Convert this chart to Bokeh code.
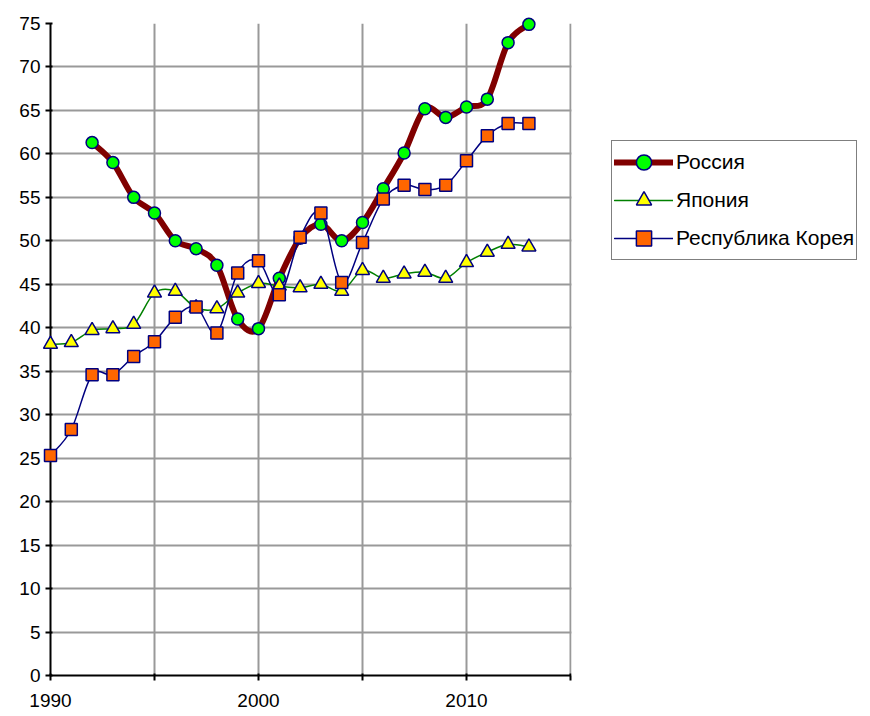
from bokeh.plotting import figure
from bokeh.models import FixedTicker, Legend, LegendItem, Range1d, BoxAnnotation
from bokeh.embed import file_html
from bokeh.resources import INLINE

years_ru = list(range(1992, 2014))
russia = [61.3, 59.0, 55.0, 53.2, 50.0, 49.1, 47.2, 41.0, 39.9, 45.7, 50.3, 51.9,
          50.0, 52.1, 56.0, 60.1, 65.2, 64.2, 65.4, 66.3, 72.8, 74.9]

years = list(range(1990, 2014))
japan = [38.1, 38.3, 39.7, 39.9, 40.4, 44.0, 44.2, 42.3, 42.2, 44.0, 45.1, 44.8,
         44.6, 45.0, 44.2, 46.6, 45.7, 46.2, 46.4, 45.7, 47.5, 48.7, 49.6, 49.3]
korea = [25.3, 28.3, 34.6, 34.6, 36.7, 38.4, 41.2, 42.4, 39.4, 46.3, 47.7, 43.8,
         50.4, 53.2, 45.2, 49.8, 54.8, 56.4, 55.9, 56.4, 59.2, 62.1, 63.5, 63.5]

x_ticks = [1990, 1995, 2000, 2005, 2010, 2015]
x_labels = {1990: "1990", 1995: "", 2000: "2000", 2005: "", 2010: "2010", 2015: ""}
y_ticks = list(range(0, 80, 5))

names = ["Россия", "Япония", "Республика Корея"]

FONT = "Liberation Sans"

# the plotting frame spans the whole figure width so the legend is not clipped;
# the axis and grid stop at 2015, the area to its right is blanked
X0, X1 = 1990, 2015
FRAME_PX = 820
AXIS_PX = 520
x_end = X0 + (X1 - X0) * FRAME_PX / AXIS_PX

p = figure(width=870, height=716, output_backend="svg", toolbar_location=None,
           x_range=Range1d(X0, x_end), y_range=Range1d(0, 75),
           min_border_left=50, min_border_top=23, min_border_bottom=41,
           min_border_right=870 - 50 - FRAME_PX)
p.background_fill_color = "white"
p.border_fill_color = "white"
p.outline_line_color = None

p.xaxis.ticker = FixedTicker(ticks=x_ticks)
p.xaxis.major_label_overrides = x_labels
p.xaxis.bounds = (X0, X1)
p.yaxis.ticker = FixedTicker(ticks=y_ticks)
for ax in (p.xaxis, p.yaxis):
    ax.axis_line_color = "black"
    ax.axis_line_width = 2
    ax.major_tick_line_color = "black"
    ax.major_tick_line_width = 2
    ax.major_tick_out = 5
    ax.major_tick_in = 2
    ax.minor_tick_line_color = None
    ax.major_label_text_font = FONT
    ax.major_label_text_font_size = "19px"
    ax.major_label_text_color = "black"
p.xaxis.major_label_standoff = 13
p.yaxis.major_label_standoff = 5

p.xgrid.ticker = FixedTicker(ticks=x_ticks)
p.ygrid.ticker = FixedTicker(ticks=y_ticks)
p.grid.grid_line_color = "#999999"
p.grid.grid_line_width = 2

p.add_layout(BoxAnnotation(left=X1 + 0.05, right=x_end + 1, top=80, bottom=-1,
                           fill_color="white", fill_alpha=1, line_color=None))


def smooth(xs, ys):
    n = len(xs)
    x0, y0, x1, y1, cx0, cy0, cx1, cy1 = ([] for _ in range(8))
    for i in range(n - 1):
        pa = max(i - 1, 0)
        pb = min(i + 2, n - 1)
        x0.append(xs[i]); y0.append(ys[i])
        x1.append(xs[i + 1]); y1.append(ys[i + 1])
        cx0.append(xs[i] + (xs[i + 1] - xs[pa]) / 6.0)
        cy0.append(ys[i] + (ys[i + 1] - ys[pa]) / 6.0)
        cx1.append(xs[i + 1] - (xs[pb] - xs[i]) / 6.0)
        cy1.append(ys[i + 1] - (ys[pb] - ys[i]) / 6.0)
    return dict(x0=x0, y0=y0, x1=x1, y1=y1, cx0=cx0, cy0=cy0, cx1=cx1, cy1=cy1)


series = [
    (years_ru, russia, "#800000", 6, "circle", "#00FF00", 12),
    (years, japan, "#008000", 1.5, "triangle", "#FFFF00", 14),
    (years, korea, "#000080", 1.5, "square", "#FF6600", 12),
]

items = []
for (xs, ys, lc, lw, mk, fc, sz), name in zip(series, names):
    b = smooth(xs, ys)
    p.bezier(x0=b["x0"], y0=b["y0"], x1=b["x1"], y1=b["y1"],
             cx0=b["cx0"], cy0=b["cy0"], cx1=b["cx1"], cy1=b["cy1"],
             line_color=lc, line_width=lw, level="overlay")
    lg = p.line(x=xs[:1], y=ys[:1], line_color=lc, line_width=lw, line_cap="round")
    r2 = p.scatter(x=xs, y=ys, marker=mk, size=sz, fill_color=fc,
                   line_color="#000080", line_width=1.5, level="overlay")
    items.append(LegendItem(label=name, renderers=[lg, r2]))

legend = Legend(items=items, location=(561, 415), level="overlay",
                label_text_font=FONT, label_text_font_size="21px",
                label_text_color="black",
                glyph_width=59, glyph_height=38, label_height=38,
                label_standoff=3, spacing=0, padding=2, margin=0,
                border_line_color="black", border_line_width=1.5,
                background_fill_color="white", background_fill_alpha=1)
p.add_layout(legend, "center")

open("out.html", "w").write(file_html(p, INLINE))
